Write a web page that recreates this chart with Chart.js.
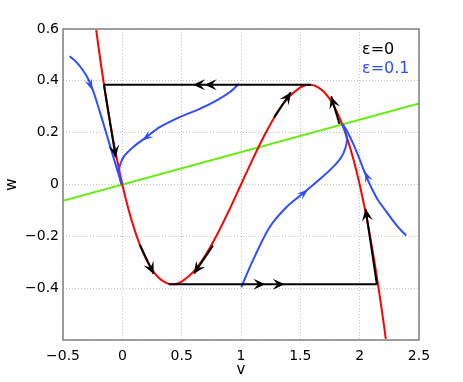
<!DOCTYPE html>
<html>
<head>
<meta charset="utf-8">
<script src="https://cdn.jsdelivr.net/npm/chart.js@4.4.0/dist/chart.umd.min.js"></script>
<style>
html,body{margin:0;padding:0;background:#fff;}
#wrap{width:463px;height:382px;}
</style>
</head>
<body>
<div id="wrap"><canvas id="c" width="463" height="382"></canvas></div>
<script>
// ---- axis ticks ----
const xTicks = [-0.5, 0, 0.5, 1, 1.5, 2, 2.5];
const xTickLabels = ['\u22120.5', '0', '0.5', '1', '1.5', '2', '2.5'];
const yTicks = [-0.6, -0.4, -0.2, 0, 0.2, 0.4, 0.6];
const yTickLabels = ['', '\u22120.4', '\u22120.2', '0', '0.2', '0.4', '0.6'];

// ---- red cubic nullcline ----
const redV = [-0.22, -0.2, -0.15, -0.1, -0.05, 0, 0.05, 0.1, 0.15, 0.2, 0.25, 0.3, 0.35, 0.4, 0.45, 0.5, 0.6, 0.7, 0.8, 0.9, 1.0, 1.1, 1.2, 1.3, 1.4, 1.5, 1.55, 1.6, 1.65, 1.7, 1.75, 1.8, 1.85, 1.9, 1.95, 2.0, 2.05, 2.1, 2.15, 2.2, 2.22];
const redW = [0.596, 0.528, 0.371, 0.231, 0.108, 0, -0.093, -0.171, -0.236, -0.288, -0.328, -0.357, -0.375, -0.384, -0.384, -0.375, -0.336, -0.273, -0.192, -0.099, 0, 0.099, 0.192, 0.273, 0.336, 0.375, 0.384, 0.384, 0.375, 0.357, 0.328, 0.288, 0.236, 0.171, 0.093, 0, -0.108, -0.231, -0.371, -0.528, -0.596];

// ---- green linear nullcline ----
const greenV = [-0.5, 2.5];
const greenW = [-0.0625, 0.3125];

// ---- black (eps = 0) trajectories ----
const topJumpV = [1.59, -0.155];
const topJumpW = [0.385, 0.385];
const bottomJumpV = [0.39, 2.145];
const bottomJumpW = [-0.385, -0.385];
const leftDescentV = [-0.155, -0.056];
const leftDescentW = [0.385, 0.105];
const rightAscentV = [2.145, 2.05];
const rightAscentW = [-0.385, -0.094];
const midAscentV = [1.28, 1.42];
const midAscentW = [0.26, 0.356];
const rightUpperV = [1.83, 1.76];
const rightUpperW = [0.234, 0.34];
const leftLowerV = [0.147, 0.264];
const leftLowerW = [-0.232, -0.345];
const midLowerV = [0.763, 0.604];
const midLowerW = [-0.236, -0.344];

// ---- blue (eps = 0.1) trajectories ----
const blueAV = [-0.444, -0.387, -0.331, -0.289, -0.252, -0.219, -0.176, -0.134, -0.092, -0.05, -0.005];
const blueAW = [0.495, 0.472, 0.44, 0.408, 0.369, 0.324, 0.26, 0.196, 0.131, 0.067, 0.0];
const blueBV = [0.983, 0.904, 0.792, 0.652, 0.483, 0.315, 0.203, 0.09, 0.02, -0.016, -0.028, -0.016, -0.005];
const blueBW = [0.389, 0.356, 0.324, 0.292, 0.26, 0.221, 0.183, 0.144, 0.112, 0.08, 0.048, 0.015, 0.0];
const blueCV = [1.003, 1.1, 1.241, 1.382, 1.52, 1.663, 1.775, 1.845, 1.882, 1.893, 1.876, 1.854];
const blueCW = [-0.396, -0.293, -0.165, -0.088, -0.035, 0.02, 0.067, 0.105, 0.144, 0.176, 0.208, 0.232];
const blueDV = [2.393, 2.337, 2.28, 2.224, 2.154, 2.112, 2.07, 2.027, 1.985, 1.943, 1.901, 1.859];
const blueDW = [-0.197, -0.171, -0.139, -0.104, -0.06, -0.024, 0.016, 0.064, 0.114, 0.16, 0.2, 0.232];

// ---- arrowheads: [tipV, tipW, fromV, fromW] ----
const blackArrows = [
  [0.596, 0.385, 0.8, 0.385],
  [0.694, 0.385, 0.9, 0.385],
  [1.205, -0.385, 1.0, -0.385],
  [1.368, -0.385, 1.2, -0.385],
  [-0.056, 0.105, -0.155, 0.385],
  [2.05, -0.094, 2.145, -0.385],
  [1.42, 0.356, 1.28, 0.26],
  [1.76, 0.34, 1.83, 0.234],
  [0.264, -0.345, 0.147, -0.232],
  [0.604, -0.344, 0.763, -0.236]
];
const blueArrows = [
  [-0.255, 0.365, -0.289, 0.408],
  [0.169, 0.17, 0.315, 0.221],
  [1.564, -0.02, 1.45, -0.063],
  [2.045, 0.05, 2.085, 0.003]
];

const legendTexts = ['\u03b5=0', '\u03b5=0.1'];

const RED = '#ff0000', BLUE = '#2d4dff', BLACK = '#000000', GREEN = '#66ee11';

function pts(vs, ws) { return vs.map((v, i) => ({x: v, y: ws[i]})); }
function line(vs, ws, color, width, tension) {
  return {data: pts(vs, ws), borderColor: color, backgroundColor: color, borderWidth: width,
          showLine: true, pointRadius: 0, pointHoverRadius: 0, tension: tension || 0, fill: false};
}

const datasets = [
  line(topJumpV, topJumpW, BLACK, 2),
  line(bottomJumpV, bottomJumpW, BLACK, 2),
  line(leftDescentV, leftDescentW, BLACK, 2),
  line(rightAscentV, rightAscentW, BLACK, 2),
  line(midAscentV, midAscentW, BLACK, 2),
  line(rightUpperV, rightUpperW, BLACK, 2),
  line(leftLowerV, leftLowerW, BLACK, 2),
  line(midLowerV, midLowerW, BLACK, 2),
  line(blueAV, blueAW, BLUE, 2, 0.3),
  line(blueBV, blueBW, BLUE, 2, 0.3),
  line(blueCV, blueCW, BLUE, 2, 0.3),
  line(blueDV, blueDW, BLUE, 2, 0.3),
  line(redV, redW, RED, 2, 0.3),
  line(greenV, greenW, GREEN, 2)
];

const FONT = 'DejaVu Sans';

const boxAndArrows = {
  id: 'boxAndArrows',
  afterDatasetsDraw(chart) {
    const ctx = chart.ctx, xs = chart.scales.x, ys = chart.scales.y;
    function head(a, color, L, W, notch) {
      const tx = xs.getPixelForValue(a[0]), ty = ys.getPixelForValue(a[1]);
      const fx = xs.getPixelForValue(a[2]), fy = ys.getPixelForValue(a[3]);
      const ang = Math.atan2(ty - fy, tx - fx);
      ctx.save();
      ctx.translate(tx, ty);
      ctx.rotate(ang);
      ctx.beginPath();
      ctx.moveTo(0, 0);
      ctx.lineTo(-L, W / 2);
      ctx.lineTo(-L * notch, 0);
      ctx.lineTo(-L, -W / 2);
      ctx.closePath();
      ctx.fillStyle = color;
      ctx.fill();
      ctx.restore();
    }
    blackArrows.forEach(a => head(a, BLACK, 12, 11, 0.6));
    blueArrows.forEach(a => head(a, BLUE, 11, 8, 0.6));
    const ca = chart.chartArea;
    ctx.save();
    ctx.strokeStyle = '#808080';
    ctx.lineWidth = 1.5;
    ctx.strokeRect(ca.left, ca.top, ca.right - ca.left, ca.bottom - ca.top);
    ctx.restore();
  },
  afterDraw(chart) {
    const ctx = chart.ctx;
    ctx.save();
    ctx.font = '16px "' + FONT + '"';
    ctx.textAlign = 'left';
    ctx.textBaseline = 'alphabetic';
    ctx.fillStyle = BLACK;
    ctx.fillText(legendTexts[0], 362, 54);
    ctx.fillStyle = BLUE;
    ctx.fillText(legendTexts[1], 362, 73);
    ctx.restore();
  }
};

new Chart(document.getElementById('c'), {
  type: 'scatter',
  data: {datasets},
  options: {
    responsive: false,
    animation: false,
    devicePixelRatio: 1,
    layout: {padding: {left: 0, right: 44, top: 29, bottom: 0}},
    plugins: {legend: {display: false}, tooltip: {enabled: false}},
    scales: {
      x: {
        type: 'linear', min: -0.5, max: 2.5,
        afterBuildTicks(s) { s.ticks = xTicks.map(v => ({value: v})); },
        afterFit(s) { s.height = 42; },
        ticks: {callback: (v, i) => xTickLabels[i], color: '#000', font: {family: FONT, size: 14}, padding: 8, maxRotation: 0, autoSkip: false},
        grid: {color: '#c4c4c4', drawTicks: false, tickLength: 0},
        border: {display: false, dash: [1, 2]},
        title: {display: true, text: 'v', color: '#000', font: {family: FONT, size: 15}, padding: {top: 0, bottom: 3}}
      },
      y: {
        type: 'linear', min: -0.6, max: 0.6,
        afterBuildTicks(s) { s.ticks = yTicks.map(v => ({value: v})); },
        afterFit(s) { s.width = 63; },
        ticks: {callback: (v, i) => yTickLabels[i], color: '#000', font: {family: FONT, size: 14}, padding: 4, autoSkip: false},
        grid: {color: '#c4c4c4', drawTicks: false, tickLength: 0},
        border: {display: false, dash: [1, 2]},
        title: {display: true, text: 'w', color: '#000', font: {family: FONT, size: 15}, padding: {top: 3, bottom: 0}}
      }
    }
  },
  plugins: [boxAndArrows]
});
</script>
</body>
</html>
